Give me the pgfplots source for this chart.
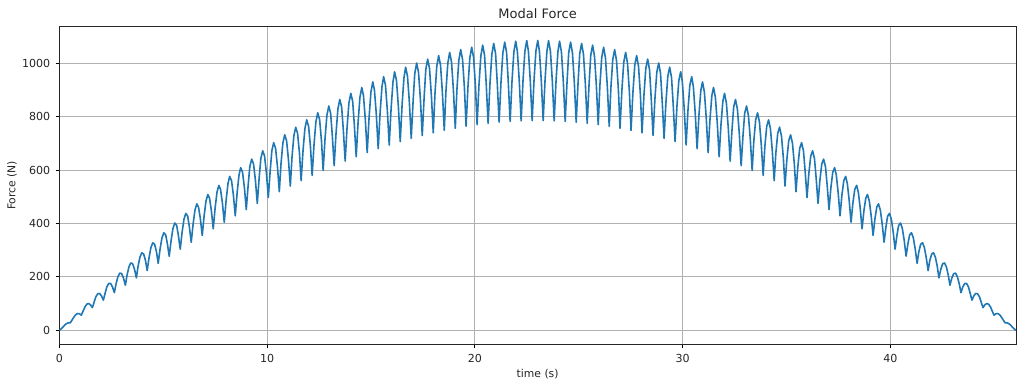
\documentclass[border=0pt]{standalone}
\usepackage{fontspec}
\setmainfont{DejaVu Sans}
\usepackage{pgfplots}
\pgfplotsset{compat=1.18}
\definecolor{mplblue}{RGB}{31,119,180}
\definecolor{gridgray}{RGB}{176,176,176}
\begin{document}
\begin{tikzpicture}
\useasboundingbox (-42.7bp,-30.46bp) rectangle (694.56bp,248.22bp);
\begin{axis}[name=ax, at={(0,0)}, anchor=south west, scale only axis, width=688.8bp, height=229.5bp,
 xmin=0, xmax=46.05, ymin=-54, ymax=1139,
 xtick={0,10,20,30,40}, ytick={0,200,400,600,800,1000},
 grid=major, grid style={gridgray, line width=0.6bp},
 axis line style={black!85, line width=0.6bp},
 tick align=outside, major tick length=2.6bp, tick style={black, line width=0.6bp},
 xtick pos=lower, ytick pos=left,
 /pgf/number format/assume math mode=true,
 /pgf/number format/1000 sep={},
 ticklabel style={font=\fontsize{8}{9.5}\selectfont, text=black!85},
 xticklabel style={yshift=-0.4bp},
 yticklabel style={xshift=-0.4bp},
 xlabel={time (s)}, ylabel={Force (N)},
 label style={font=\fontsize{7.8}{9}\selectfont, text=black!85},
 xlabel style={at={(axis description cs:0.5,0)}, anchor=base, yshift=-23.3bp},
 ylabel style={at={(axis description cs:-0.0495,0.5)}, anchor=center},
 title={Modal Force}, title style={font=\fontsize{9.4}{11}\selectfont, text=black!85, at={(axis description cs:0.5,1)}, anchor=base, yshift=-0.6bp},
]
\addplot[mplblue, line width=1.15bp, line join=round] coordinates {
(0,0) (0.09,5.6) (0.18,12.6) (0.26,19.6) (0.35,25.2) (0.44,28.1)
(0.53,28.3) (0.62,39.4) (0.71,50.3) (0.79,58.7) (0.88,62.9) (0.97,61.9)
(1.06,56.7) (1.15,73.1) (1.24,88.0) (1.32,97.8) (1.41,100.5) (1.50,95.5)
(1.59,84.9) (1.68,106.7) (1.76,125.5) (1.85,136.8) (1.94,138.0) (2.03,129.0)
(2.12,113.0) (2.21,140.2) (2.29,162.9) (2.38,175.5) (2.47,175.3) (2.56,162.4)
(2.65,141.0) (2.73,173.4) (2.82,200.0) (2.91,214.1) (3.00,212.3) (3.09,195.5)
(3.18,168.8) (3.26,206.5) (3.35,236.9) (3.44,252.3) (3.53,249.1) (3.62,228.4)
(3.71,196.3) (3.79,239.3) (3.88,273.5) (3.97,290.3) (4.06,285.6) (4.15,261.0)
(4.23,223.6) (4.32,271.7) (4.41,309.7) (4.50,327.8) (4.59,321.7) (4.68,293.2)
(4.76,250.7) (4.85,303.9) (4.94,345.6) (5.03,365.0) (5.12,357.4) (5.20,325.1)
(5.29,277.4) (5.38,335.6) (5.47,380.9) (5.56,401.6) (5.65,392.6) (5.73,356.5)
(5.82,303.7) (5.91,366.9) (6.00,415.8) (6.09,437.7) (6.18,427.3) (6.26,387.5)
(6.35,329.6) (6.44,397.7) (6.53,450.2) (6.62,473.3) (6.70,461.5) (6.79,417.9)
(6.88,355.1) (6.97,428.0) (7.06,483.9) (7.15,508.2) (7.23,495.0) (7.32,447.9)
(7.41,380.2) (7.50,457.7) (7.59,517.0) (7.68,542.5) (7.76,527.9) (7.85,477.2)
(7.94,404.7) (8.03,486.8) (8.12,549.5) (8.20,576.1) (8.29,560.1) (8.38,505.9)
(8.47,428.7) (8.56,515.3) (8.65,581.2) (8.73,608.9) (8.82,591.6) (8.91,534.0)
(9.00,452.2) (9.09,543.2) (9.17,612.2) (9.26,640.9) (9.35,622.3) (9.44,561.3)
(9.53,475.1) (9.62,570.3) (9.70,642.4) (9.79,672.1) (9.88,652.2) (9.97,588.0)
(10.06,497.3) (10.15,596.7) (10.23,671.7) (10.32,702.4) (10.41,681.3) (10.50,613.8)
(10.59,518.9) (10.67,622.3) (10.76,700.2) (10.85,731.8) (10.94,709.4) (11.03,638.9)
(11.12,539.8) (11.20,647.1) (11.29,727.7) (11.38,760.3) (11.47,736.7) (11.56,663.1)
(11.64,560.1) (11.73,671.0) (11.82,754.3) (11.91,787.7) (12.00,763.0) (12.09,686.5)
(12.17,579.6) (12.26,694.1) (12.35,779.9) (12.44,814.1) (12.53,788.2) (12.62,708.9)
(12.70,598.3) (12.79,716.2) (12.88,804.5) (12.97,839.5) (13.06,812.5) (13.14,730.5)
(13.23,616.3) (13.32,737.5) (13.41,828.1) (13.50,863.8) (13.59,835.7) (13.67,751.1)
(13.76,633.4) (13.85,757.7) (13.94,850.5) (14.03,886.9) (14.12,857.8) (14.20,770.7)
(14.29,649.7) (14.38,777.0) (14.47,871.9) (14.56,908.9) (14.64,878.8) (14.73,789.3)
(14.82,665.2) (14.91,795.3) (15.00,892.1) (15.09,929.7) (15.17,898.6) (15.26,806.9)
(15.35,679.8) (15.44,812.5) (15.53,911.2) (15.61,949.3) (15.70,917.3) (15.79,823.4)
(15.88,693.6) (15.97,828.7) (16.06,929.1) (16.14,967.6) (16.23,934.8) (16.32,838.9)
(16.41,706.4) (16.50,843.8) (16.59,945.7) (16.67,984.7) (16.76,951.0) (16.85,853.2)
(16.94,718.3) (17.03,857.8) (17.11,961.2) (17.20,1000.5) (17.29,966.0) (17.38,866.5)
(17.47,729.3) (17.56,870.6) (17.64,975.3) (17.73,1015.0) (17.82,979.8) (17.91,878.6)
(18.00,739.3) (18.08,882.4) (18.17,988.2) (18.26,1028.2) (18.35,992.3) (18.44,889.6)
(18.53,748.3) (18.61,893.0) (18.70,999.9) (18.79,1040.0) (18.88,1003.4) (18.97,899.4)
(19.06,756.4) (19.14,902.4) (19.23,1010.2) (19.32,1050.5) (19.41,1013.3) (19.50,908.0)
(19.58,763.5) (19.67,910.6) (19.76,1019.2) (19.85,1059.6) (19.94,1021.9) (20.03,915.5)
(20.11,769.6) (20.20,917.7) (20.29,1026.8) (20.38,1067.4) (20.47,1029.1) (20.55,921.7)
(20.64,774.7) (20.73,923.5) (20.82,1033.2) (20.91,1073.7) (21.00,1035.0) (21.08,926.8)
(21.17,778.7) (21.26,928.2) (21.35,1038.1) (21.44,1078.6) (21.53,1039.5) (21.61,930.6)
(21.70,781.8) (21.79,931.7) (21.88,1041.8) (21.97,1082.2) (22.05,1042.7) (22.14,933.3)
(22.23,783.9) (22.32,933.9) (22.41,1044.0) (22.50,1084.3) (22.58,1044.5) (22.67,934.7)
(22.76,784.9) (22.85,934.9) (22.94,1044.9) (23.03,1085.0) (23.11,1044.9) (23.20,934.9)
(23.29,784.9) (23.38,934.7) (23.47,1044.5) (23.55,1084.3) (23.64,1044.0) (23.73,933.9)
(23.82,783.9) (23.91,933.3) (24.00,1042.7) (24.08,1082.2) (24.17,1041.8) (24.26,931.7)
(24.35,781.8) (24.44,930.6) (24.52,1039.5) (24.61,1078.6) (24.70,1038.1) (24.79,928.2)
(24.88,778.7) (24.97,926.8) (25.05,1035.0) (25.14,1073.7) (25.23,1033.2) (25.32,923.5)
(25.41,774.7) (25.50,921.7) (25.58,1029.1) (25.67,1067.4) (25.76,1026.8) (25.85,917.7)
(25.94,769.6) (26.02,915.5) (26.11,1021.9) (26.20,1059.6) (26.29,1019.2) (26.38,910.6)
(26.47,763.5) (26.55,908.0) (26.64,1013.3) (26.73,1050.5) (26.82,1010.2) (26.91,902.4)
(26.99,756.4) (27.08,899.4) (27.17,1003.4) (27.26,1040.0) (27.35,999.9) (27.44,893.0)
(27.52,748.3) (27.61,889.6) (27.70,992.3) (27.79,1028.2) (27.88,988.2) (27.97,882.4)
(28.05,739.3) (28.14,878.6) (28.23,979.8) (28.32,1015.0) (28.41,975.3) (28.49,870.6)
(28.58,729.3) (28.67,866.5) (28.76,966.0) (28.85,1000.5) (28.94,961.2) (29.02,857.8)
(29.11,718.3) (29.20,853.2) (29.29,951.0) (29.38,984.7) (29.47,945.7) (29.55,843.8)
(29.64,706.4) (29.73,838.9) (29.82,934.8) (29.91,967.6) (29.99,929.1) (30.08,828.7)
(30.17,693.6) (30.26,823.4) (30.35,917.3) (30.44,949.3) (30.52,911.2) (30.61,812.5)
(30.70,679.8) (30.79,806.9) (30.88,898.6) (30.96,929.7) (31.05,892.1) (31.14,795.3)
(31.23,665.2) (31.32,789.3) (31.41,878.8) (31.49,908.9) (31.58,871.9) (31.67,777.0)
(31.76,649.7) (31.85,770.7) (31.94,857.8) (32.02,886.9) (32.11,850.5) (32.20,757.7)
(32.29,633.4) (32.38,751.1) (32.46,835.7) (32.55,863.8) (32.64,828.1) (32.73,737.5)
(32.82,616.3) (32.91,730.5) (32.99,812.5) (33.08,839.5) (33.17,804.5) (33.26,716.2)
(33.35,598.3) (33.43,708.9) (33.52,788.2) (33.61,814.1) (33.70,779.9) (33.79,694.1)
(33.88,579.6) (33.96,686.5) (34.05,763.0) (34.14,787.7) (34.23,754.3) (34.32,671.0)
(34.41,560.1) (34.49,663.1) (34.58,736.7) (34.67,760.3) (34.76,727.7) (34.85,647.1)
(34.93,539.8) (35.02,638.9) (35.11,709.4) (35.20,731.8) (35.29,700.2) (35.38,622.3)
(35.46,518.9) (35.55,613.8) (35.64,681.3) (35.73,702.4) (35.82,671.7) (35.90,596.7)
(35.99,497.3) (36.08,588.0) (36.17,652.2) (36.26,672.1) (36.35,642.4) (36.43,570.3)
(36.52,475.1) (36.61,561.3) (36.70,622.3) (36.79,640.9) (36.88,612.2) (36.96,543.2)
(37.05,452.2) (37.14,534.0) (37.23,591.6) (37.32,608.9) (37.40,581.2) (37.49,515.3)
(37.58,428.7) (37.67,505.9) (37.76,560.1) (37.85,576.1) (37.93,549.5) (38.02,486.8)
(38.11,404.7) (38.20,477.2) (38.29,527.9) (38.38,542.5) (38.46,517.0) (38.55,457.7)
(38.64,380.2) (38.73,447.9) (38.82,495.0) (38.90,508.2) (38.99,483.9) (39.08,428.0)
(39.17,355.1) (39.26,417.9) (39.35,461.5) (39.43,473.3) (39.52,450.2) (39.61,397.7)
(39.70,329.6) (39.79,387.5) (39.87,427.3) (39.96,437.7) (40.05,415.8) (40.14,366.9)
(40.23,303.7) (40.32,356.5) (40.40,392.6) (40.49,401.6) (40.58,380.9) (40.67,335.6)
(40.76,277.4) (40.85,325.1) (40.93,357.4) (41.02,365.0) (41.11,345.6) (41.20,303.9)
(41.29,250.7) (41.37,293.2) (41.46,321.7) (41.55,327.8) (41.64,309.7) (41.73,271.7)
(41.82,223.6) (41.90,261.0) (41.99,285.6) (42.08,290.3) (42.17,273.5) (42.26,239.3)
(42.34,196.3) (42.43,228.4) (42.52,249.1) (42.61,252.3) (42.70,236.9) (42.79,206.5)
(42.87,168.8) (42.96,195.5) (43.05,212.3) (43.14,214.1) (43.23,200.0) (43.32,173.4)
(43.40,141.0) (43.49,162.4) (43.58,175.3) (43.67,175.5) (43.76,162.9) (43.84,140.2)
(43.93,113.0) (44.02,129.0) (44.11,138.0) (44.20,136.8) (44.29,125.5) (44.37,106.7)
(44.46,84.9) (44.55,95.5) (44.64,100.5) (44.73,97.8) (44.82,88.0) (44.90,73.1)
(44.99,56.7) (45.08,61.9) (45.17,62.9) (45.26,58.7) (45.34,50.3) (45.43,39.4)
(45.52,28.3) (45.61,28.1) (45.70,25.2) (45.79,19.6) (45.87,12.6) (45.96,5.6)
(46.05,0)
};
\end{axis}
\end{tikzpicture}
\end{document}
